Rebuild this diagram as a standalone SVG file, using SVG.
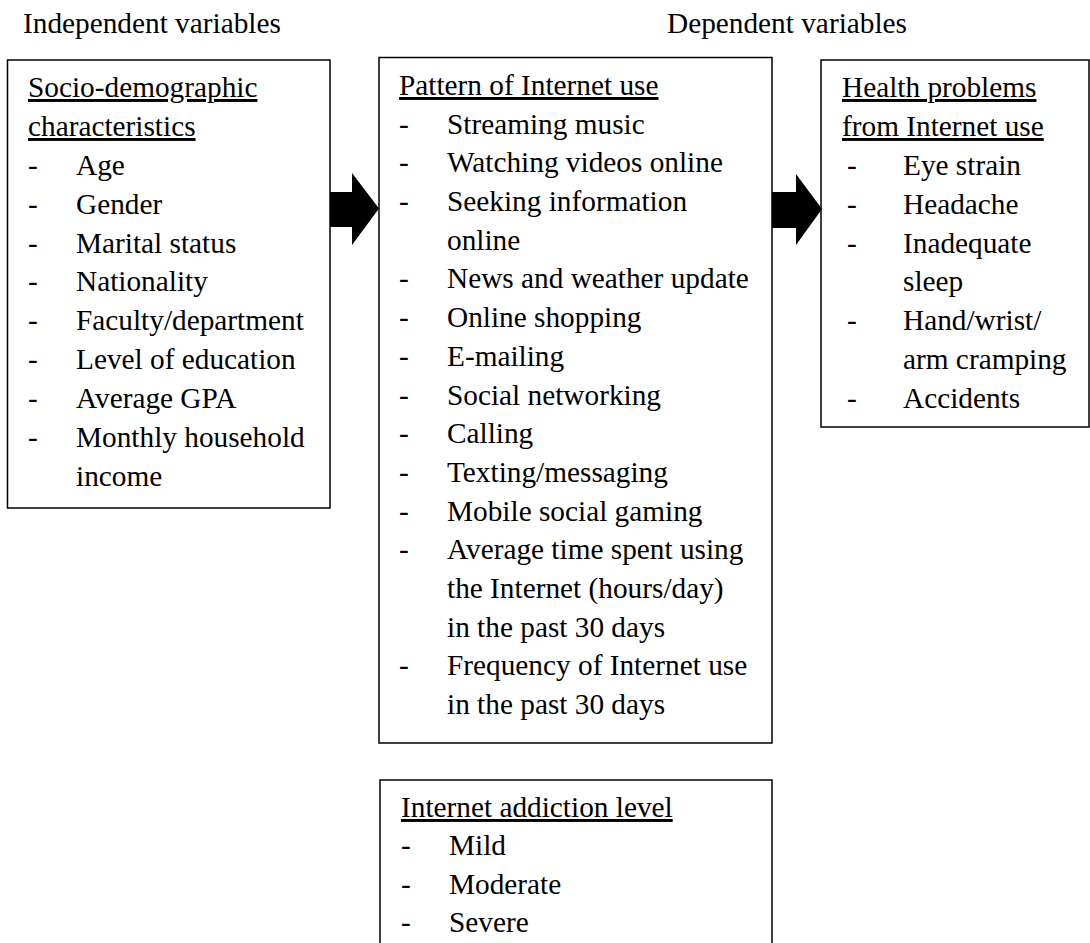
<svg xmlns="http://www.w3.org/2000/svg" width="1090" height="943" viewBox="0 0 1090 943" font-family="'Liberation Serif', 'DejaVu Serif', serif">
<style>
text{font-family:'Liberation Serif','DejaVu Serif',serif;font-size:29.3px;fill:#000}
.u{text-decoration:underline}
.box{fill:#fff;stroke:#000;stroke-width:1.5}
.arrow{fill:#000;stroke:none}
</style>
<rect width="1090" height="943" fill="#fff"/>
<g id="headers">
<text x="23" y="33">Independent variables</text>
<text x="667" y="33">Dependent variables</text>
</g>
<g id="node-sociodemographic">
<rect class="box" x="7.5" y="60" width="322.5" height="448"/>
<text class="u" x="28" y="97">Socio-demographic</text>
<text class="u" x="28" y="136">characteristics</text>
<text x="28" y="175">-</text><text x="76" y="175">Age</text>
<text x="28" y="214">-</text><text x="76" y="214">Gender</text>
<text x="28" y="253">-</text><text x="76" y="253">Marital status</text>
<text x="28" y="291">-</text><text x="76" y="291">Nationality</text>
<text x="28" y="330">-</text><text x="76" y="330">Faculty/department</text>
<text x="28" y="369">-</text><text x="76" y="369">Level of education</text>
<text x="28" y="408">-</text><text x="76" y="408">Average GPA</text>
<text x="28" y="447">-</text><text x="76" y="447">Monthly household</text>
<text x="76" y="486">income</text>
</g>
<g id="node-pattern">
<rect class="box" x="379" y="57.5" width="393" height="685.5"/>
<text class="u" x="399" y="95">Pattern of Internet use</text>
<text x="399" y="134">-</text><text x="447" y="134">Streaming music</text>
<text x="399" y="172">-</text><text x="447" y="172">Watching videos online</text>
<text x="399" y="211">-</text><text x="447" y="211">Seeking information</text>
<text x="447" y="250">online</text>
<text x="399" y="288">-</text><text x="447" y="288">News and weather update</text>
<text x="399" y="327">-</text><text x="447" y="327">Online shopping</text>
<text x="399" y="366">-</text><text x="447" y="366">E-mailing</text>
<text x="399" y="405">-</text><text x="447" y="405">Social networking</text>
<text x="399" y="443">-</text><text x="447" y="443">Calling</text>
<text x="399" y="482">-</text><text x="447" y="482">Texting/messaging</text>
<text x="399" y="521">-</text><text x="447" y="521">Mobile social gaming</text>
<text x="399" y="559">-</text><text x="447" y="559">Average time spent using</text>
<text x="447" y="598">the Internet (hours/day)</text>
<text x="447" y="637">in the past 30 days</text>
<text x="399" y="675">-</text><text x="447" y="675">Frequency of Internet use</text>
<text x="447" y="714">in the past 30 days</text>
</g>
<g id="node-health">
<rect class="box" x="821" y="60" width="268" height="367"/>
<text class="u" x="842" y="97">Health problems</text>
<text class="u" x="842" y="136">from Internet use</text>
<text x="847" y="175">-</text><text x="903" y="175">Eye strain</text>
<text x="847" y="214">-</text><text x="903" y="214">Headache</text>
<text x="847" y="253">-</text><text x="903" y="253">Inadequate</text>
<text x="903" y="291">sleep</text>
<text x="847" y="330">-</text><text x="903" y="330">Hand/wrist/</text>
<text x="903" y="369">arm cramping</text>
<text x="847" y="408">-</text><text x="903" y="408">Accidents</text>
</g>
<g id="node-addiction">
<rect class="box" x="380" y="780" width="392" height="200"/>
<text class="u" x="401" y="817">Internet addiction level</text>
<text x="401" y="855">-</text><text x="449" y="855">Mild</text>
<text x="401" y="894">-</text><text x="449" y="894">Moderate</text>
<text x="401" y="932">-</text><text x="449" y="932">Severe</text>
</g>
<g id="connectors">
<polygon class="arrow" points="330,192 352,192 352,173 379,208.5 352,245 352,227 330,227"/>
<polygon class="arrow" points="772,192 796,192 796,174 822,209 796,245 796,228 772,228"/>
</g>
</svg>
